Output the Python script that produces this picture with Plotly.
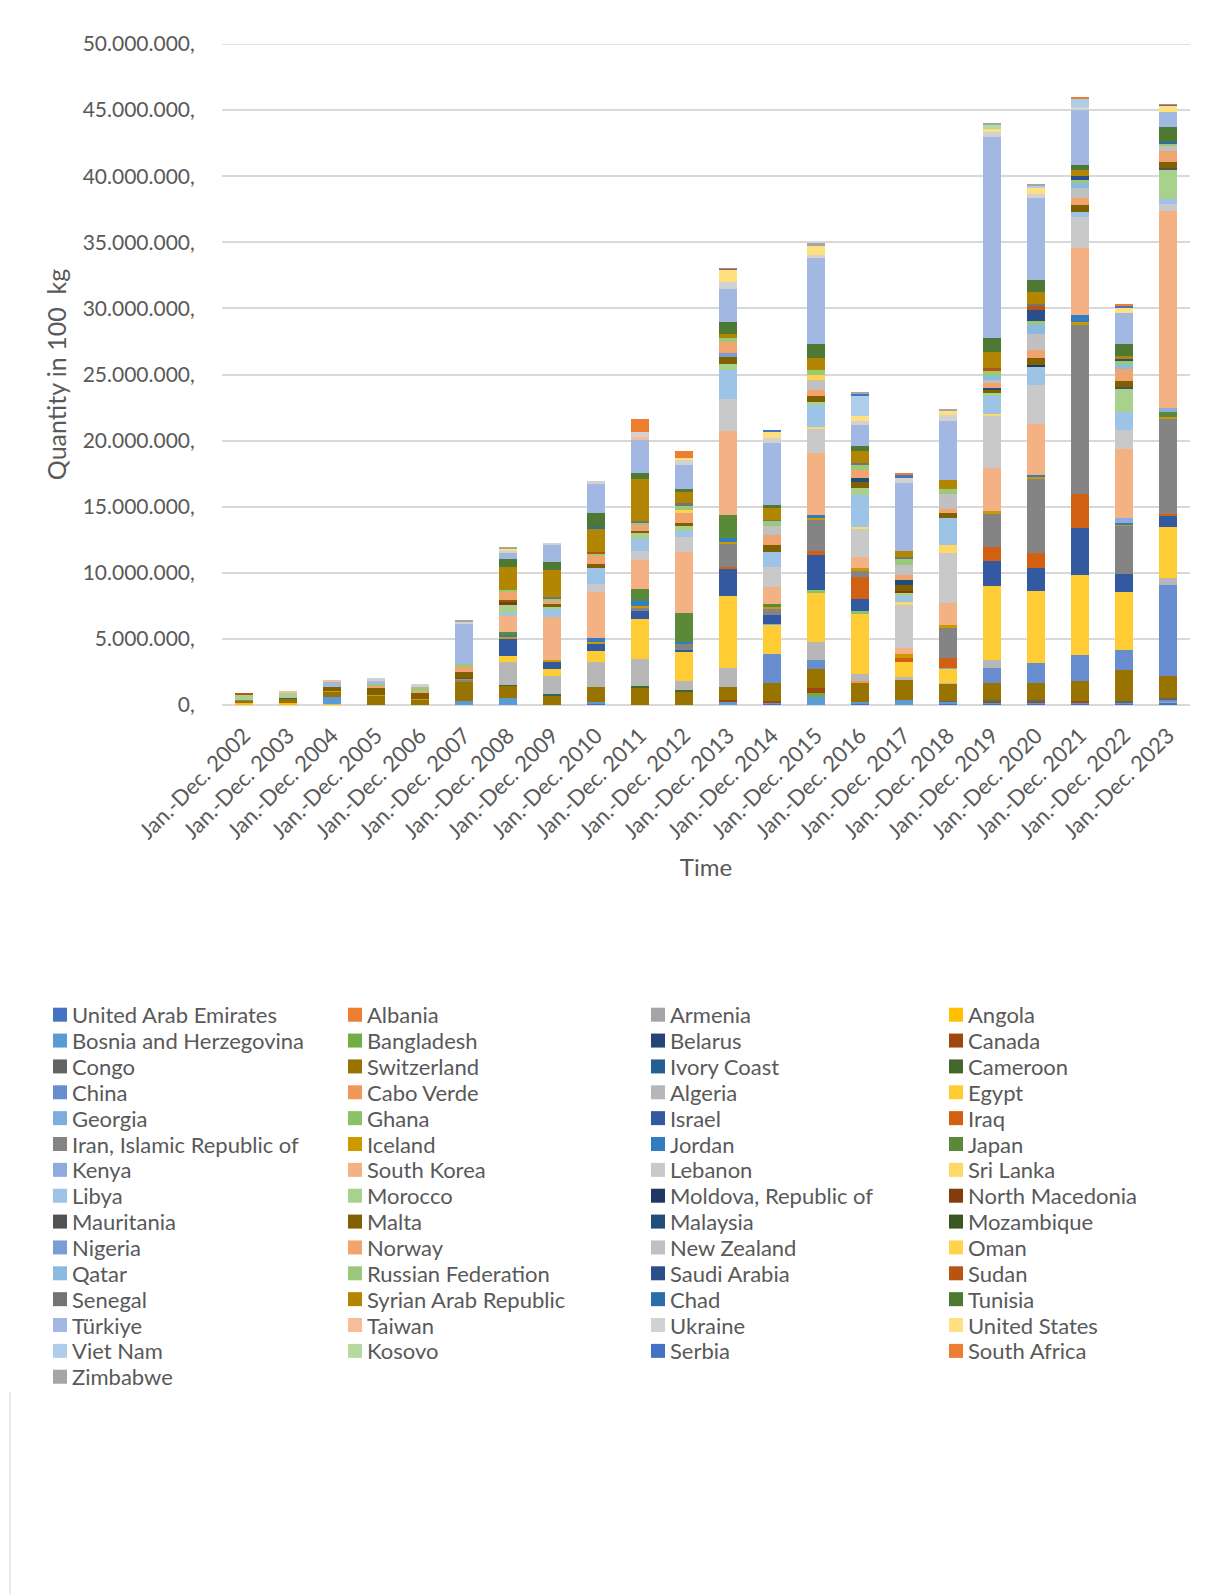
import colorsys
import plotly.graph_objects as go

# Imports by partner country, quantity in 100 kg (values below in millions)
YEARS = list(range(2002, 2024))
CATEGORIES = [f"Jan.-Dec. {y}" for y in YEARS]
UNIT = 1_000_000

SERIES = [
    "United Arab Emirates", "Albania", "Armenia", "Angola",
    "Bosnia and Herzegovina", "Bangladesh", "Belarus", "Canada",
    "Congo", "Switzerland", "Ivory Coast", "Cameroon",
    "China", "Cabo Verde", "Algeria", "Egypt",
    "Georgia", "Ghana", "Israel", "Iraq",
    "Iran, Islamic Republic of", "Iceland", "Jordan", "Japan",
    "Kenya", "South Korea", "Lebanon", "Sri Lanka",
    "Libya", "Morocco", "Moldova, Republic of", "North Macedonia",
    "Mauritania", "Malta", "Malaysia", "Mozambique",
    "Nigeria", "Norway", "New Zealand", "Oman",
    "Qatar", "Russian Federation", "Saudi Arabia", "Sudan",
    "Senegal", "Syrian Arab Republic", "Chad", "Tunisia",
    "Türkiye", "Taiwan", "Ukraine", "United States",
    "Viet Nam", "Kosovo", "Serbia", "South Africa",
    "Zimbabwe",
]

IRAN = "Iran, Islamic Republic of"
SYRIA = "Syrian Arab Republic"
BOSNIA = "Bosnia and Herzegovina"
RUSSIA = "Russian Federation"
MOLDOVA = "Moldova, Republic of"
UAE = "United Arab Emirates"
US = "United States"

y2002 = {"Angola": 0.15, "Switzerland": 0.18, IRAN: 0.05, "Morocco": 0.42, "Sudan": 0.08}
y2003 = {"Angola": 0.17, "Switzerland": 0.33, "Cameroon": 0.03, "Morocco": 0.3, "Libya": 0.1,
         "Taiwan": 0.1}
y2004 = {"Angola": 0.05, BOSNIA: 0.58, "Switzerland": 0.4, "Iceland": 0.05, "Malta": 0.25,
         "Türkiye": 0.42, "Taiwan": 0.12}
y2005 = {"Switzerland": 0.72, "Iceland": 0.05, "Malta": 0.52, "Norway": 0.2, RUSSIA: 0.12,
         "Türkiye": 0.28, "Ukraine": 0.12}
y2006 = {"Switzerland": 0.42, "Iceland": 0.06, "Malta": 0.42, "Norway": 0.18, RUSSIA: 0.3,
         "Ukraine": 0.18}
y2007 = {BOSNIA: 0.3, "Switzerland": 1.5, IRAN: 0.12, "Iceland": 0.1, "Mauritania": 0.05,
         "Malta": 0.42, "Norway": 0.4, RUSSIA: 0.22, "Türkiye": 3.05, "Ukraine": 0.15,
         "Zimbabwe": 0.08}
y2008 = {BOSNIA: 0.5, "Switzerland": 1.0, "Cameroon": 0.05, "Algeria": 1.68, "Egypt": 0.5,
         "Israel": 1.3, "Iceland": 0.12, "Jordan": 0.2, "Japan": 0.15, "South Korea": 1.2,
         "Libya": 0.25, "Morocco": 0.58, "North Macedonia": 0.3, "Malta": 0.15, "Norway": 0.6,
         RUSSIA: 0.15, SYRIA: 1.7, "Tunisia": 0.62, "Türkiye": 0.45, "Ukraine": 0.2, US: 0.12,
         "Zimbabwe": 0.12}
y2009 = {"Switzerland": 0.75, "Ivory Coast": 0.05, "Cameroon": 0.05, "Algeria": 1.33,
         "Egypt": 0.58, "Israel": 0.55, "Iceland": 0.1, "South Korea": 3.27, "Libya": 0.62,
         "Morocco": 0.15, "Malta": 0.18, "Norway": 0.3, RUSSIA: 0.12, "Senegal": 0.12,
         SYRIA: 2.05, "Tunisia": 0.62, "Türkiye": 1.3, "Ukraine": 0.15}
y2010 = {UAE: 0.1, BOSNIA: 0.15, "Switzerland": 1.08, "Algeria": 1.93, "Egypt": 0.8,
         "Israel": 0.58, "Iceland": 0.12, "Jordan": 0.32, "South Korea": 3.44, "Lebanon": 0.63,
         "Libya": 1.2, "Malta": 0.3, "Norway": 0.62, RUSSIA: 0.18, "Sudan": 0.12, SYRIA: 1.76,
         "Chad": 0.12, "Tunisia": 1.08, "Türkiye": 2.19, "Ukraine": 0.25}
y2011 = {"Switzerland": 1.35, "Cameroon": 0.08, "Algeria": 2.06, "Egypt": 3.04, "Israel": 0.6,
         IRAN: 0.25, "Iceland": 0.1, "Jordan": 0.38, "Japan": 0.9, "South Korea": 2.24,
         "Lebanon": 0.65, "Libya": 0.88, "Morocco": 0.5, "Malta": 0.15, "Norway": 0.5,
         RUSSIA: 0.15, "Senegal": 0.12, SYRIA: 3.12, "Tunisia": 0.45, "Türkiye": 2.6,
         "Taiwan": 0.15, "Ukraine": 0.38, "South Africa": 0.95}
y2012 = {"Switzerland": 1.0, "Cameroon": 0.15, "Algeria": 0.7, "Egypt": 2.2, "Israel": 0.08,
         IRAN: 0.5, "Iceland": 0.05, "Jordan": 0.1, "Japan": 2.18, "South Korea": 4.6,
         "Lebanon": 1.18, "Libya": 0.4, "Morocco": 0.38, "Malta": 0.25, "Norway": 0.75,
         "Oman": 0.25, RUSSIA: 0.25, "Senegal": 0.25, SYRIA: 0.85, "Tunisia": 0.25,
         "Türkiye": 1.76, "Ukraine": 0.45, US: 0.1, "South Africa": 0.55}
y2013 = {BOSNIA: 0.3, "Canada": 0.08, "Switzerland": 0.95, "Algeria": 1.5, "Egypt": 5.45,
         "Israel": 2.06, "Iraq": 0.1, IRAN: 1.76, "Iceland": 0.15, "Jordan": 0.25, "Japan": 1.76,
         "South Korea": 6.4, "Lebanon": 2.39, "Libya": 2.2, "Morocco": 0.45, "Malta": 0.5,
         "Nigeria": 0.33, "Norway": 0.8, RUSSIA: 0.3, SYRIA: 0.3, "Tunisia": 0.95,
         "Türkiye": 2.5, "Ukraine": 0.5, US: 0.93, "Serbia": 0.08, "South Africa": 0.03}
y2014 = {UAE: 0.1, BOSNIA: 0.08, "Canada": 0.15, "Switzerland": 1.3, "China": 2.26,
         "Egypt": 2.2, "Georgia": 0.05, "Israel": 0.7, IRAN: 0.43, "Iceland": 0.2, "Japan": 0.15,
         "South Korea": 1.3, "Lebanon": 1.5, "Libya": 1.13, "Malta": 0.58, "Norway": 0.75,
         "New Zealand": 0.68, RUSSIA: 0.38, "Senegal": 0.05, SYRIA: 0.88, "Tunisia": 0.25,
         "Türkiye": 4.7, "Ukraine": 0.4, US: 0.5, "Serbia": 0.1}
y2015 = {BOSNIA: 0.58, "Bangladesh": 0.3, "Canada": 0.38, "Switzerland": 1.46, "China": 0.68,
         "Algeria": 1.38, "Egypt": 3.73, "Ghana": 0.2, "Israel": 2.62, "Iraq": 0.33, IRAN: 2.39,
         "Iceland": 0.12, "Jordan": 0.2, "South Korea": 4.71, "Lebanon": 1.81, "Sri Lanka": 0.12,
         "Libya": 1.66, "Morocco": 0.25, "Malta": 0.43, "Norway": 0.5, "New Zealand": 0.7,
         "Oman": 0.43, RUSSIA: 0.38, SYRIA: 0.88, "Tunisia": 1.08, "Türkiye": 6.47,
         "Ukraine": 0.25, US: 0.7, "Zimbabwe": 0.18}
y2016 = {UAE: 0.1, BOSNIA: 0.15, "Switzerland": 1.43, "Cabo Verde": 0.1, "Algeria": 0.55,
         "Egypt": 4.6, "Ghana": 0.15, "Israel": 0.93, "Iraq": 1.64, IRAN: 0.55, "Iceland": 0.15,
         "South Korea": 0.86, "Lebanon": 2.17, "Sri Lanka": 0.12, "Libya": 2.4, "Morocco": 0.53,
         "Malta": 0.43, "Malaysia": 0.33, "Norway": 0.55, RUSSIA: 0.38, "Senegal": 0.2,
         SYRIA: 0.93, "Tunisia": 0.33, "Türkiye": 1.61, "Ukraine": 0.33, US: 0.33,
         "Viet Nam": 1.51, "Serbia": 0.18, "Zimbabwe": 0.12}
y2017 = {BOSNIA: 0.4, "Switzerland": 1.51, "Algeria": 0.2, "Egypt": 1.13, "Iraq": 0.33,
         "Iceland": 0.3, "South Korea": 0.43, "Lebanon": 3.3, "Sri Lanka": 0.18, "Libya": 0.5,
         "Morocco": 0.18, "North Macedonia": 0.2, "Malta": 0.38, "Malaysia": 0.38,
         "Norway": 0.45, "New Zealand": 0.75, RUSSIA: 0.43, "Senegal": 0.18, SYRIA: 0.45,
         "Türkiye": 5.1, "Ukraine": 0.45, "Serbia": 0.15, "South Africa": 0.2}
y2018 = {UAE: 0.1, BOSNIA: 0.15, "Congo": 0.08, "Switzerland": 1.3, "Algeria": 0.07,
         "Egypt": 1.05, "Georgia": 0.05, "Iraq": 0.75, IRAN: 2.31, "Iceland": 0.2,
         "South Korea": 1.63, "Lebanon": 3.8, "Sri Lanka": 0.63, "Libya": 2.06, "Malta": 0.38,
         "Norway": 0.23, "New Zealand": 1.2, RUSSIA: 0.33, SYRIA: 0.68, "Türkiye": 4.5,
         "Ukraine": 0.4, US: 0.35, "Zimbabwe": 0.12}
y2019 = {UAE: 0.08, BOSNIA: 0.1, "Canada": 0.1, "Congo": 0.1, "Switzerland": 1.26,
         "China": 1.13, "Algeria": 0.63, "Egypt": 5.58, "Israel": 1.91, "Iraq": 1.03, IRAN: 2.54,
         "Iceland": 0.2, "South Korea": 3.27, "Lebanon": 4.0, "Sri Lanka": 0.12, "Libya": 1.34,
         "Morocco": 0.18, "Malta": 0.3, "Malaysia": 0.1, "Norway": 0.35, "New Zealand": 0.28,
         "Qatar": 0.3, RUSSIA: 0.33, "Sudan": 0.25, SYRIA: 1.23, "Tunisia": 1.08,
         "Türkiye": 15.2, "Ukraine": 0.33, US: 0.23, "Kosovo": 0.38, "Zimbabwe": 0.12}
y2020 = {UAE: 0.1, BOSNIA: 0.08, "Canada": 0.08, "Congo": 0.1, "Switzerland": 1.31,
         "China": 1.51, "Egypt": 5.46, "Israel": 1.71, "Iraq": 1.13, IRAN: 5.66, "Iceland": 0.12,
         "Jordan": 0.12, "South Korea": 3.9, "Lebanon": 2.9, "Libya": 1.38, MOLDOVA: 0.18,
         "Malta": 0.5, "Norway": 0.63, "New Zealand": 1.21, "Qatar": 0.63, RUSSIA: 0.3,
         "Saudi Arabia": 0.88, "Sudan": 0.33, "Senegal": 0.12, SYRIA: 0.88, "Tunisia": 0.96,
         "Türkiye": 6.2, "Ukraine": 0.3, US: 0.43, "Viet Nam": 0.15, "Zimbabwe": 0.08}
y2021 = {UAE: 0.1, BOSNIA: 0.08, "Canada": 0.12, "Switzerland": 1.51, "China": 1.96,
         "Egypt": 6.04, "Israel": 3.57, "Iraq": 2.57, IRAN: 12.83, "Iceland": 0.2, "Jordan": 0.5,
         "South Korea": 5.1, "Lebanon": 2.31, "Libya": 0.43, "Malta": 0.53, "Norway": 0.5,
         "New Zealand": 0.78, "Qatar": 0.33, RUSSIA: 0.28, "Saudi Arabia": 0.3, SYRIA: 0.43,
         "Tunisia": 0.38, "Türkiye": 4.15, "Ukraine": 0.2, "Viet Nam": 0.7,
         "South Africa": 0.1}
y2022 = {UAE: 0.1, BOSNIA: 0.08, "Congo": 0.1, "Switzerland": 2.39, "China": 1.46,
         "Egypt": 4.4, "Israel": 1.38, IRAN: 3.6, "Iceland": 0.18, "Jordan": 0.1, "Kenya": 0.38,
         "South Korea": 5.23, "Lebanon": 1.38, "Libya": 1.38, "Morocco": 1.81,
         "Mauritania": 0.08, "Malta": 0.43, "Norway": 0.96, "Qatar": 0.3, RUSSIA: 0.33,
         "Saudi Arabia": 0.12, SYRIA: 0.23, "Tunisia": 0.91, "Türkiye": 2.3, US: 0.43,
         "Serbia": 0.15, "South Africa": 0.08}
y2023 = {UAE: 0.18, "Armenia": 0.1, BOSNIA: 0.1, "Congo": 0.15, "Switzerland": 1.66,
         "China": 6.89, "Algeria": 0.53, "Egypt": 3.82, "Israel": 0.93, "Iraq": 0.08, IRAN: 7.17,
         "Iceland": 0.2, "Japan": 0.33, "Kenya": 0.33, "South Korea": 14.9, "Lebanon": 0.55,
         "Libya": 0.33, "Morocco": 2.19, "Mauritania": 0.2, "Malta": 0.45, "Norway": 0.8,
         "New Zealand": 0.45, RUSSIA: 0.15, "Chad": 0.1, "Tunisia": 1.15, "Türkiye": 1.15,
         US: 0.45, "Serbia": 0.05, "South Africa": 0.05}

BY_YEAR = [y2002, y2003, y2004, y2005, y2006, y2007, y2008, y2009, y2010, y2011, y2012,
           y2013, y2014, y2015, y2016, y2017, y2018, y2019, y2020, y2021, y2022, y2023]

Y_TICKS = [i * 5_000_000 for i in range(11)]

# Office theme palette: six accents, cycled through shade/tint variants
ACCENTS = ["#4472C4", "#ED7D31", "#A5A5A5", "#FFC000", "#5B9BD5", "#70AD47"]
VARIANTS = [(1.0, 0.0), (0.6, 0.0), (0.8, 0.2), (0.8, 0.0), (0.6, 0.4),
            (0.5, 0.0), (0.7, 0.3), (0.7, 0.0), (0.5, 0.5), (1.0, 0.0)]


def shade(hex_color, mod, off):
    r, g, b = (int(hex_color[i:i + 2], 16) / 255 for i in (1, 3, 5))
    h, l, s = colorsys.rgb_to_hls(r, g, b)
    l = min(1.0, l * mod + off)
    r, g, b = colorsys.hls_to_rgb(h, l, s)
    return "#{:02X}{:02X}{:02X}".format(round(r * 255), round(g * 255), round(b * 255))


COLORS = [shade(ACCENTS[i % 6], *VARIANTS[i // 6]) for i in range(len(SERIES))]

FONT = "Lato, 'Open Sans', sans-serif"
TEXT = "#595959"
GRID = "#D9D9D9"

fig = go.Figure()
for name, color in zip(SERIES, COLORS):
    fig.add_trace(go.Bar(
        name=name,
        x=CATEGORIES,
        y=[d.get(name, 0.0) * UNIT for d in BY_YEAR],
        marker=dict(color=color, line=dict(width=0)),
        showlegend=False,
    ))

# Plot area geometry in pixels
W, H = 1208, 1594
L, R, T, B = 222, 18, 44, 889
PW, PH = W - L - R, H - T - B


def px_x(x):
    return (x - L) / PW


def px_y(y):
    return (H - B - y) / PH


shapes = [
    # top gridline sits on the edge of the value range
    dict(type="line", xref="paper", yref="y", x0=0, x1=1,
         y0=Y_TICKS[-1], y1=Y_TICKS[-1], line=dict(color=GRID, width=1.5), layer="below"),
    # chart frame edge on the left
    dict(type="line", xref="paper", yref="paper", x0=px_x(10), x1=px_x(10),
         y0=px_y(1392), y1=px_y(H), line=dict(color=GRID, width=1.2)),
]
annotations = []

# Four-column legend below the chart
col_x = [53, 348, 651, 949]
row0, row_step, box = 1014.7, 25.86, 14
for i, (name, color) in enumerate(zip(SERIES, COLORS)):
    r, c = divmod(i, 4)
    cy = row0 + r * row_step
    x0 = col_x[c]
    shapes.append(dict(type="rect", xref="paper", yref="paper",
                       x0=px_x(x0), x1=px_x(x0 + box),
                       y0=px_y(cy + box / 2), y1=px_y(cy - box / 2),
                       fillcolor=color, line=dict(width=0)))
    annotations.append(dict(text=name, xref="paper", yref="paper",
                            x=px_x(x0 + 17), y=px_y(cy), xanchor="left", yanchor="middle",
                            showarrow=False, font=dict(family=FONT, size=22, color=TEXT)))

fig.update_layout(
    width=W, height=H,
    margin=dict(l=L, r=R, t=T, b=B, autoexpand=False),
    barmode="stack",
    bargap=0.6,
    paper_bgcolor="white",
    plot_bgcolor="white",
    font=dict(family=FONT, color=TEXT),
    showlegend=False,
    shapes=shapes,
    annotations=annotations,
    xaxis=dict(
        type="category",
        tickangle=-45,
        tickfont=dict(family=FONT, size=22, color=TEXT),
        showgrid=False,
        showline=False,
        ticks="outside",
        ticklen=8,
        tickcolor="rgba(0,0,0,0)",
        title=dict(text="Time", font=dict(family=FONT, size=24, color=TEXT), standoff=16),
        automargin=False,
    ),
    yaxis=dict(
        range=[0, 50_000_000],
        tickvals=Y_TICKS,
        ticktext=[f"{v:,}".replace(",", ".") + "," for v in Y_TICKS],
        tickfont=dict(family=FONT, size=21, color=TEXT),
        showgrid=True,
        gridcolor=GRID,
        gridwidth=1.5,
        zeroline=True,
        zerolinecolor=GRID,
        zerolinewidth=1.5,
        showline=False,
        ticks="outside",
        ticklen=22,
        tickcolor="rgba(0,0,0,0)",
        title=dict(text="Quantity in 100  kg", font=dict(family=FONT, size=25, color=TEXT),
                   standoff=8),
        automargin=False,
    ),
)

fig.write_html("out.html")
